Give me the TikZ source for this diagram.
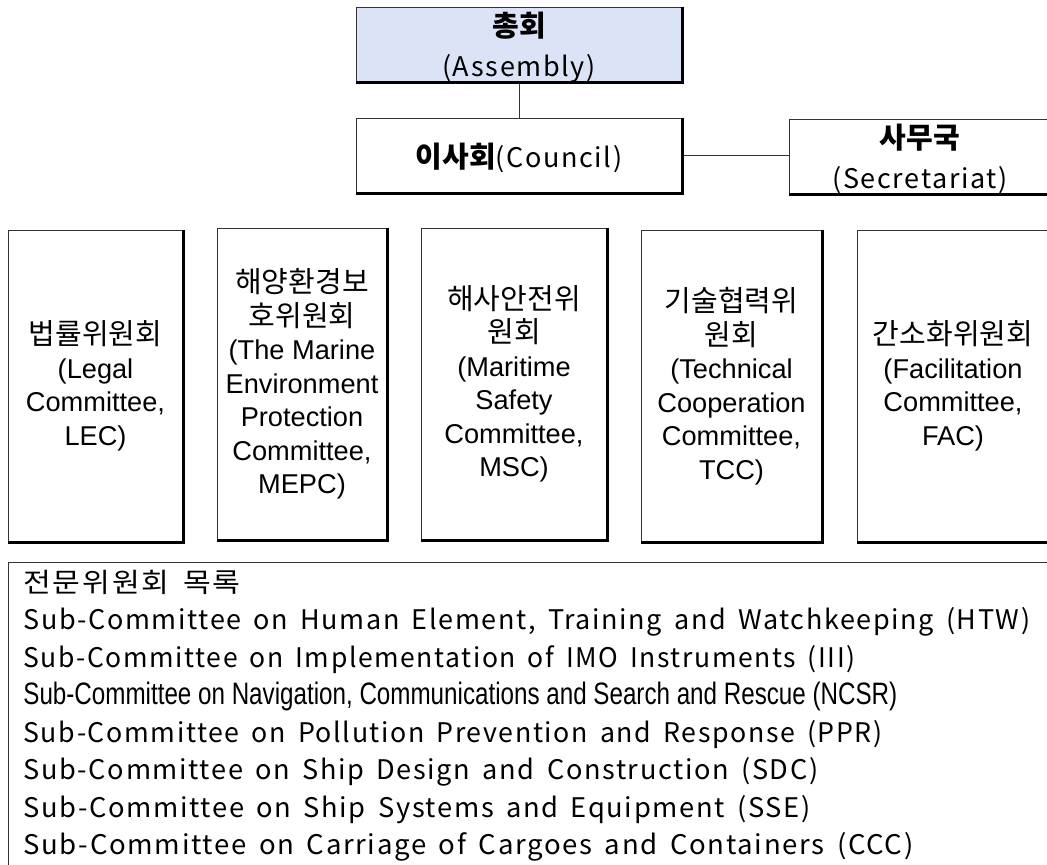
\documentclass[tikz,border=0pt]{standalone}
\usepackage{fontspec}
\usepackage{graphicx}
\setmainfont{Noto Sans CJK KR}
\newfontfamily\widefont[LetterSpace=6, WordSpace=1.6]{Noto Sans CJK KR}
\newfontfamily\krfont{Noto Sans CJK KR}
\newfontfamily\enfont{Liberation Sans}
\newcommand{\kr}[1]{{\krfont\fontsize{14.5}{16.75}\selectfont #1}}
\definecolor{assemblyblue}{RGB}{221,227,246}
\newcommand{\fitto}[2]{\resizebox{#1}{\height}{#2}}

\begin{document}
\begin{tikzpicture}[x=0.5pt, y=-0.5pt,
    orgbox/.style={draw=black!80, line width=0.5pt, inner sep=0pt, align=center,
                   font=\fontsize{14.5}{20}\selectfont},
    topbox/.style={orgbox, minimum height=37.5pt, text depth=0pt},
    combox/.style={orgbox, minimum height=156pt, font=\enfont\fontsize{13.6}{16.75}\selectfont},
    listline/.style={anchor=base west, inner sep=0pt, font=\widefont\fontsize{13.5}{16}\selectfont},
    link/.style={draw=black!80, line width=0.5pt}]
  \useasboundingbox (0,0) rectangle (1047,864);
  \clip (0,0) rectangle (1047,864);

  % Assembly, Council, Secretariat
  \node[topbox, minimum width=163pt, fill=assemblyblue] (assembly) at (519,44.5)
       {\textbf{총회}\\{\widefont\fontsize{13.5}{20}\selectfont(Assembly)}};
  \node[topbox, minimum width=163pt] (council) at (519,155.5)
       {\textbf{이사회}{\widefont\fontsize{13.5}{20}\selectfont(Council)}};
  \node[topbox, minimum width=131pt] (secretariat) at (920,156.5)
       {\textbf{사무국}\\{\widefont\fontsize{13.5}{20}\selectfont(Secretariat)}};

  \draw[link] (assembly) -- (council);
  \draw[link] (council.east) -- (council.east -| secretariat.west);

  % committees
  \node[combox, minimum width=87.5pt] (lec) at (95.5,386)
       {\kr{법률위원회}\\(Legal\\Committee,\\LEC)};
  \node[combox, minimum width=85pt] (mepc) at (302,384)
       {\kr{해양환경보}\\\kr{호위원회}\\(The Marine\\Environment\\Protection\\Committee,\\MEPC)};
  \node[combox, minimum width=93pt] (msc) at (514,384)
       {\kr{해사안전위}\\\kr{원회}\\(Maritime\\Safety\\Committee,\\MSC)};
  \node[combox, minimum width=90.5pt] (tcc) at (731.5,386)
       {\kr{기술협력위}\\\kr{원회}\\(Technical\\Cooperation\\Committee,\\TCC)};
  \node[combox, minimum width=96pt] (fac) at (953,386)
       {\kr{간소화위원회}\\(Facilitation\\Committee,\\FAC)};

  % heavy right and bottom edges
  \foreach \n in {assembly,council,secretariat,lec,mepc,msc,tcc,fac}
    \draw[line width=1.5pt] (\n.north east) -- (\n.south east) -- (\n.south west);

  % sub-committee list
  \draw[link] (8,562) rectangle (1060,880);
  \node[listline] (title) at (23,592) {\fitto{108.5pt}{전문위원회 목록}};
  \node[listline] (htw) at (23,629.5)
       {\fitto{503.5pt}{Sub-Committee on Human Element, Training and Watchkeeping (HTW)}};
  \node[listline] (iii) at (23,667)
       {\fitto{416pt}{Sub-Committee on Implementation of IMO Instruments (III)}};
  \node[listline] (ncsr) at (23,704.5)
       {\fitto{437pt}{\enfont\fontsize{15.5}{16}\selectfont Sub-Committee on Navigation, Communications and Search and Rescue (NCSR)}};
  \node[listline] (ppr) at (23,742)
       {\fitto{429.5pt}{Sub-Committee on Pollution Prevention and Response (PPR)}};
  \node[listline] (sdc) at (23,779.5)
       {\fitto{397.5pt}{Sub-Committee on Ship Design and Construction (SDC)}};
  \node[listline] (sse) at (23,817)
       {\fitto{393.5pt}{Sub-Committee on Ship Systems and Equipment (SSE)}};
  \node[listline] (ccc) at (23,854.5)
       {\fitto{445pt}{Sub-Committee on Carriage of Cargoes and Containers (CCC)}};
\end{tikzpicture}
\end{document}
